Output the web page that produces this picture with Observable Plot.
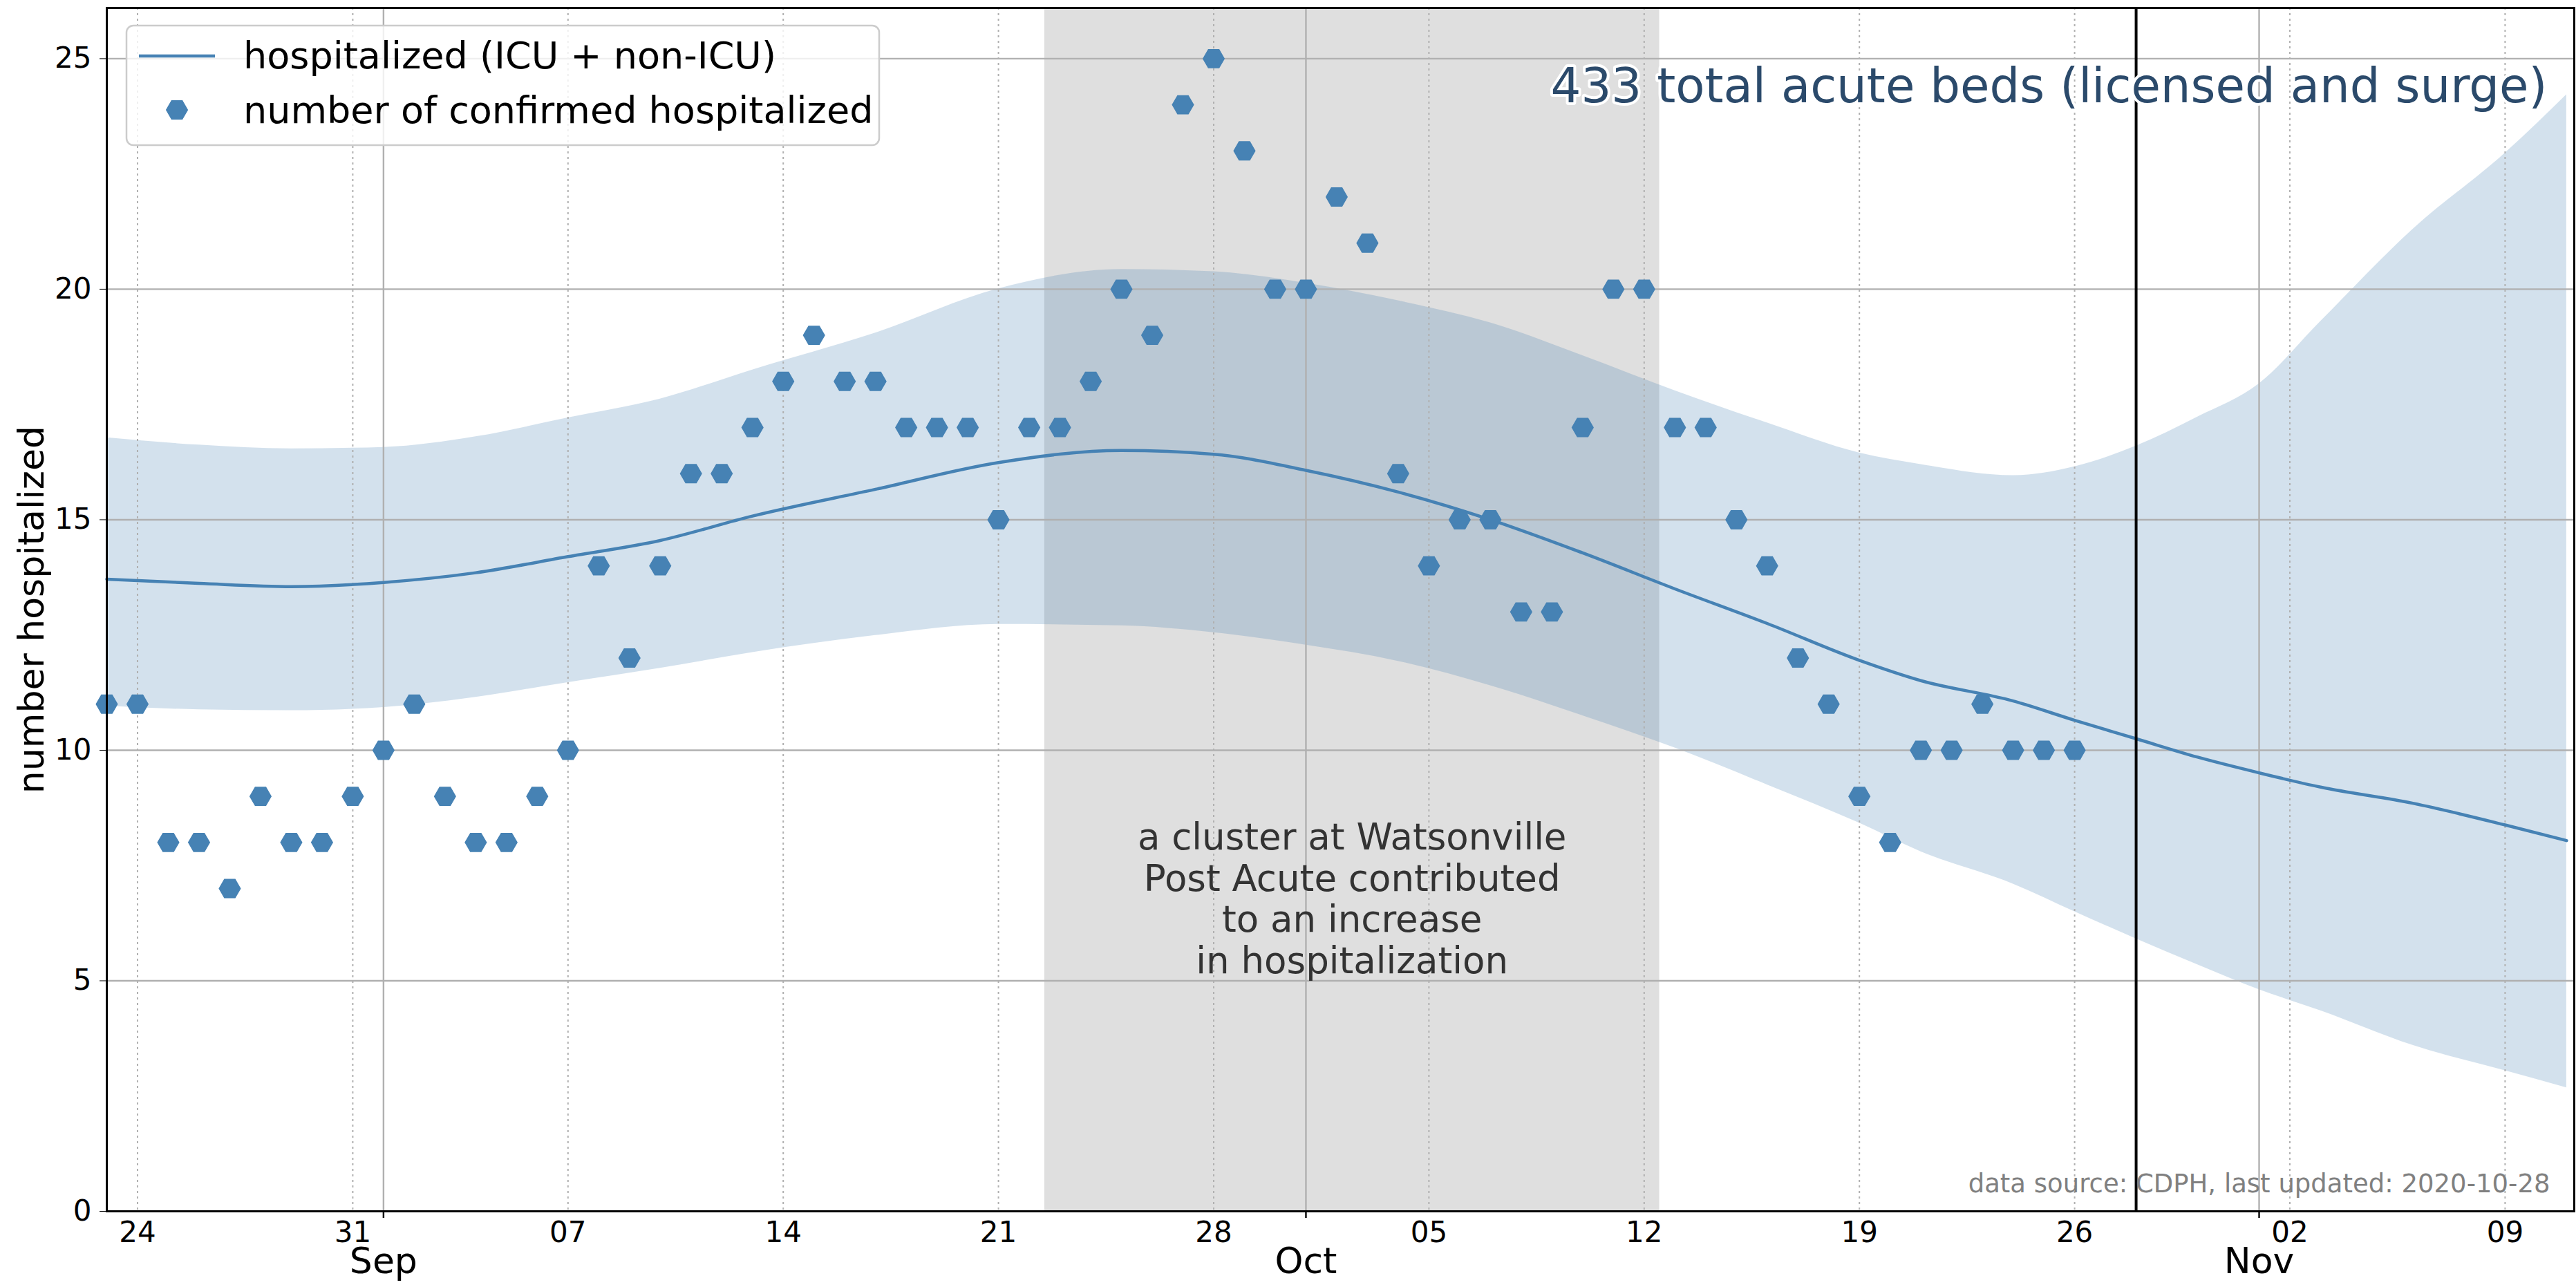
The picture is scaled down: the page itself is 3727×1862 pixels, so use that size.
<!DOCTYPE html>
<html>
<head>
<meta charset="utf-8">
<script src="https://cdn.jsdelivr.net/npm/d3@7"></script>
<script src="https://cdn.jsdelivr.net/npm/@observablehq/plot@0.6"></script>
<style>
  html, body { margin: 0; padding: 0; background: white; }
  svg { display: block; }
</style>
</head>
<body>
<script>
// ---- data ----
const obsStart = "2020-08-23";
const confirmedHospitalized = [
  11, 11, 8, 8, 7, 9, 8, 8, 9,                      // Aug 23-31
  10, 11, 9, 8, 8, 9, 10, 14, 12, 14, 16, 16, 17, 18, 19, 18, 18, 17, 17, 17,
  15, 17, 17, 18, 20, 19, 24, 25, 23, 20,           // Sep
  20, 22, 21, 16, 14, 15, 15, 13, 13, 17, 20, 20, 17, 17, 15, 14, 12, 11,
  9, 8, 10, 10, 11, 10, 10, 10                      // Oct 1-26
];

const modelDates = [
  "2020-08-23","2020-08-26","2020-08-29","2020-09-01","2020-09-04","2020-09-07",
  "2020-09-10","2020-09-13","2020-09-17","2020-09-21","2020-09-25","2020-09-28",
  "2020-10-01","2020-10-04","2020-10-07","2020-10-10","2020-10-13","2020-10-16",
  "2020-10-19","2020-10-21","2020-10-24","2020-10-26","2020-10-28","2020-10-30",
  "2020-11-01","2020-11-03","2020-11-06","2020-11-09","2020-11-11"
];
const modelMid = [
  13.71,13.62,13.55,13.64,13.85,14.20,14.55,15.08,15.66,16.24,16.50,16.42,
  16.07,15.60,15.00,14.28,13.50,12.75,11.95,11.51,11.07,10.65,10.25,9.85,
  9.51,9.20,8.85,8.38,8.04
];
const modelLow = [
  10.96,10.88,10.86,10.93,11.15,11.47,11.78,12.12,12.49,12.73,12.70,12.55,
  12.28,11.93,11.40,10.75,10.05,9.25,8.42,7.80,7.10,6.50,5.91,5.35,
  4.81,4.35,3.60,3.05,2.68
];
const modelHigh = [
  16.78,16.62,16.54,16.57,16.80,17.21,17.62,18.25,19.05,20.01,20.43,20.38,
  20.13,19.75,19.27,18.56,17.80,17.10,16.45,16.20,15.96,16.15,16.60,17.23,
  17.95,19.30,21.30,22.95,24.22
];

const weekTicks = ["2020-08-24","2020-08-31","2020-09-07","2020-09-14","2020-09-21","2020-09-28",
                   "2020-10-05","2020-10-12","2020-10-19","2020-10-26","2020-11-02","2020-11-09"];
const monthTicks = ["2020-09-01","2020-10-01","2020-11-01"];
const monthNames = ["Sep","Oct","Nov"];
const yTicks = [0, 5, 10, 15, 20, 25];

const clusterStart = "2020-09-22T12:00Z";
const clusterEnd = "2020-10-12T12:00Z";
const clusterLabel = "a cluster at Watsonville\nPost Acute contributed\nto an increase\nin hospitalization";
const clusterLabelDate = "2020-10-02T12:00Z";
const clusterLabelValue = 8.49;
const lastUpdated = "2020-10-28";
const bedsLabel = "433 total acute beds (licensed and surge)";
const sourceLabel = "data source: CDPH, last updated: 2020-10-28";
const yLabel = "number hospitalized";
const legendLabels = ["hospitalized (ICU + non-ICU)", "number of confirmed hospitalized"];

// ---- tables ----
const D = s => new Date(s);
const start = D(obsStart);
const obs = confirmedHospitalized.map((v, i) => ({date: d3.utcDay.offset(start, i), value: v}));
const model = modelDates.map((d, i) => ({date: D(d), mid: modelMid[i], lo: modelLow[i], hi: modelHigh[i]}));
const weeks = weekTicks.map(D);
const months = monthTicks.map((d, i) => ({date: D(d), name: monthNames[i]}));

const BLUE = "#4682b4";
const GRID = "#b0b0b0";
const yMax = 26.1;
const DOT_R = 13.2;

// hexagon with pointed left/right sides
const hexSide = {
  draw(ctx, size) {
    const h = Math.sqrt(size / Math.PI);
    const R = h * 2 / Math.sqrt(3);
    ctx.moveTo(R, 0);
    ctx.lineTo(R / 2, h);
    ctx.lineTo(-R / 2, h);
    ctx.lineTo(-R, 0);
    ctx.lineTo(-R / 2, -h);
    ctx.lineTo(R / 2, -h);
    ctx.closePath();
  }
};

const chart = Plot.plot({
  width: 3727,
  height: 1862,
  marginLeft: 154,
  marginRight: 3,
  marginTop: 11,
  marginBottom: 110,
  style: {fontFamily: "'DejaVu Sans', sans-serif", fontSize: "42px", background: "white", color: "black"},
  x: {
    type: "utc",
    domain: [D("2020-08-23"), D("2020-11-11T06:00Z")],
    ticks: weeks,
    tickFormat: "%d",
    tickSize: 0,
    tickPadding: 15,
    label: null
  },
  y: {
    domain: [0, yMax],
    ticks: yTicks,
    tickSize: 10,
    tickPadding: 12,
    label: null
  },
  marks: [
    Plot.rect([{a: D(clusterStart), b: D(clusterEnd)}], {x1: "a", x2: "b", y1: 0, y2: yMax, fill: "#dfdfdf"}),
    Plot.areaY(model, {x: "date", y1: "lo", y2: "hi", fill: BLUE, fillOpacity: 0.24, curve: "monotone-x"}),
    Plot.ruleY(yTicks.filter(d => d > 0), {stroke: GRID, strokeWidth: 2.4}),
    Plot.ruleX(weeks, {stroke: GRID, strokeWidth: 2, strokeDasharray: "3,5"}),
    Plot.ruleX(months, {x: "date", stroke: GRID, strokeWidth: 2.4}),
    Plot.line(model, {x: "date", y: "mid", stroke: BLUE, strokeWidth: 4.5, curve: "monotone-x"}),
    Plot.dot(obs, {x: "date", y: "value", symbol: hexSide, r: DOT_R, fill: BLUE, stroke: BLUE, strokeWidth: 1.5}),
    Plot.ruleX([D(lastUpdated)], {stroke: "black", strokeWidth: 4}),
    Plot.ruleX(months, {x: "date", y1: 0, y2: -0.15, stroke: "black", strokeWidth: 2.4}),
    Plot.text(months, {x: "date", text: "name", frameAnchor: "bottom", textAnchor: "middle", lineAnchor: "top", dy: 53, fontSize: 52, fill: "black"}),
    Plot.text([clusterLabel], {x: () => D(clusterLabelDate), y: () => clusterLabelValue, text: d => d,
      textAnchor: "middle", lineAnchor: "top", lineHeight: 1.13, fontSize: 53, fill: "#333333"}),
    Plot.text([bedsLabel], {text: d => d, frameAnchor: "top-right", textAnchor: "end", lineAnchor: "top",
      dx: -39, dy: 87, fontSize: 69, fill: "#2b4a6b", stroke: "white", strokeWidth: 8}),
    Plot.text([sourceLabel], {text: d => d, frameAnchor: "bottom-right", textAnchor: "end", lineAnchor: "top",
      dx: -35, dy: -54, fontSize: 37, fill: "#808080"}),
    Plot.text([yLabel], {text: d => d, frameAnchor: "left", textAnchor: "middle", lineAnchor: "middle",
      dx: -108, rotate: -90, fontSize: 52, fill: "black"}),
    Plot.frame({stroke: "black", strokeWidth: 3})
  ]
});

// legend inside the axes (matplotlib-style box)
const svg = d3.select(chart);
const lg = svg.append("g")
  .attr("font-family", "'DejaVu Sans', sans-serif")
  .attr("text-anchor", "start")
  .style("text-anchor", "start");
lg.append("rect").attr("x", 183).attr("y", 37).attr("width", 1089).attr("height", 173)
  .attr("rx", 10).attr("fill", "white").attr("fill-opacity", 0.8)
  .attr("stroke", "#cccccc").attr("stroke-width", 2.5);
lg.append("line").attr("x1", 201).attr("x2", 311).attr("y1", 81).attr("y2", 81)
  .attr("stroke", BLUE).attr("stroke-width", 4.5);
lg.append("path").attr("d", d3.symbol(hexSide, Math.PI * DOT_R * DOT_R)())
  .attr("transform", "translate(256,159)").attr("fill", BLUE).attr("stroke", BLUE).attr("stroke-width", 1.5);
lg.append("text").attr("x", 352).attr("y", 99).attr("font-size", 54).attr("fill", "black")
  .style("text-anchor", "start").text(legendLabels[0]);
lg.append("text").attr("x", 352).attr("y", 178).attr("font-size", 54).attr("fill", "black")
  .style("text-anchor", "start").text(legendLabels[1]);

document.body.append(chart);
</script>
</body>
</html>
